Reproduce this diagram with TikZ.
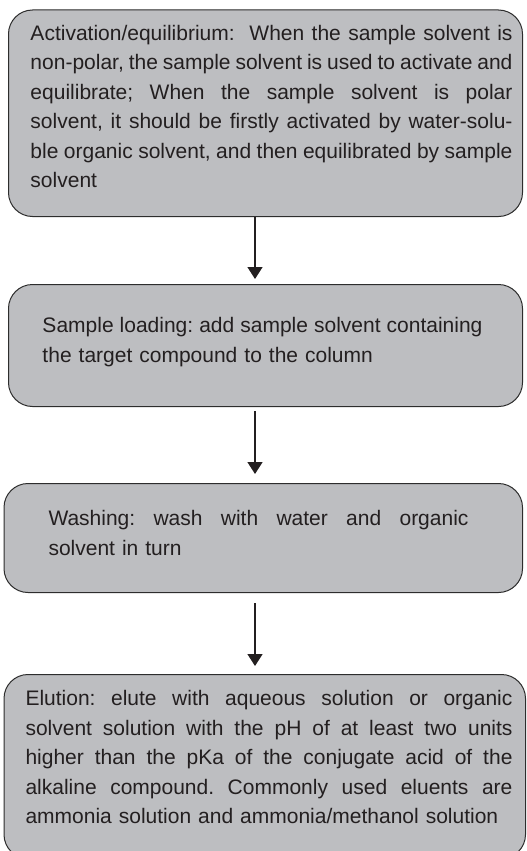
\documentclass[tikz,border=0pt]{standalone}
\usepackage{fontspec}
\setmainfont{Liberation Sans}
\usetikzlibrary{arrows.meta, positioning}
\definecolor{boxgray}{RGB}{189,190,193}
\definecolor{edgegray}{RGB}{45,45,45}
\definecolor{inkblack}{RGB}{35,31,32}
\newlength{\stepwd}
% one justified line, and a last (ragged) line
\newcommand{\jline}[1]{\hbox to\stepwd{\spaceskip=0.278em plus 0.4em minus 0.1em\relax #1}}
\newcommand{\lline}[1]{\hbox to\stepwd{#1\hfil}}
% block of lines, pushed in from the left edge of its box
\newcommand{\steptext}[3]{\setlength{\stepwd}{#2}\hspace*{#1}\vtop{#3}}

\begin{document}
\begin{tikzpicture}[x=1pt, y=-1pt,
    stepbox/.style={draw=edgegray, line width=1pt, fill=boxgray, rounded corners=24pt,
        anchor=north west, inner sep=0pt, text=inkblack,
        font=\fontsize{21}{29.5}\selectfont\frenchspacing},
    flow/.style={-{Triangle[width=15pt,length=12pt]}, line width=1.5pt, draw=inkblack}]
    \useasboundingbox (0,0) rectangle (527,851);
    \clip (0,0) rectangle (527,851);

    % Activation / equilibrium
    \node[stepbox, text width=514pt, text height=30.5pt, text depth=176pt] (activ) at (8,9.5)
        {\steptext{22pt}{482pt}{%
         \jline{Activation/equilibrium:\ \ When the sample solvent is}
         \jline{non-polar, the sample solvent is used to activate and}
         \jline{equilibrate; When the sample solvent is polar}
         \jline{solvent, it should be firstly activated by water-solu-}
         \jline{ble organic solvent, and then equilibrated by sample}
         \lline{solvent}}};

    % Sample loading
    \node[stepbox, text width=514pt, text height=48pt, text depth=74pt] (load) at (8,284)
        {\steptext{34pt}{440pt}{%
         \jline{Sample loading: add sample solvent containing}
         \lline{the target compound to the column}}};

    % Washing
    \node[stepbox, text width=518.5pt, text height=42pt, text depth=67pt] (wash) at (3.5,483)
        {\steptext{44.5pt}{420pt}{%
         \jline{Washing: wash with water and organic}
         \lline{solvent in turn}}};

    % Elution
    \node[stepbox, text width=521.5pt, text height=31pt, text depth=153pt] (elut) at (3.5,674)
        {\steptext{21.5pt}{487pt}{%
         \jline{Elution: elute with aqueous solution or organic}
         \jline{solvent solution with the pH of at least two units}
         \jline{higher than the pKa of the conjugate acid of the}
         \jline{alkaline compound. Commonly used eluents are}
         \lline{ammonia solution and ammonia/methanol solution}}};

    % Arrows
    \coordinate (axis) at (255,0);
    \draw[flow, shorten >=5pt] (activ.south -| axis) -- (load.north -| axis);
    \draw[flow, shorten <=4pt, shorten >=9pt] (load.south -| axis) -- (wash.north -| axis);
    \draw[flow, shorten <=10pt, shorten >=8pt] (wash.south -| axis) -- (elut.north -| axis);
\end{tikzpicture}
\end{document}
